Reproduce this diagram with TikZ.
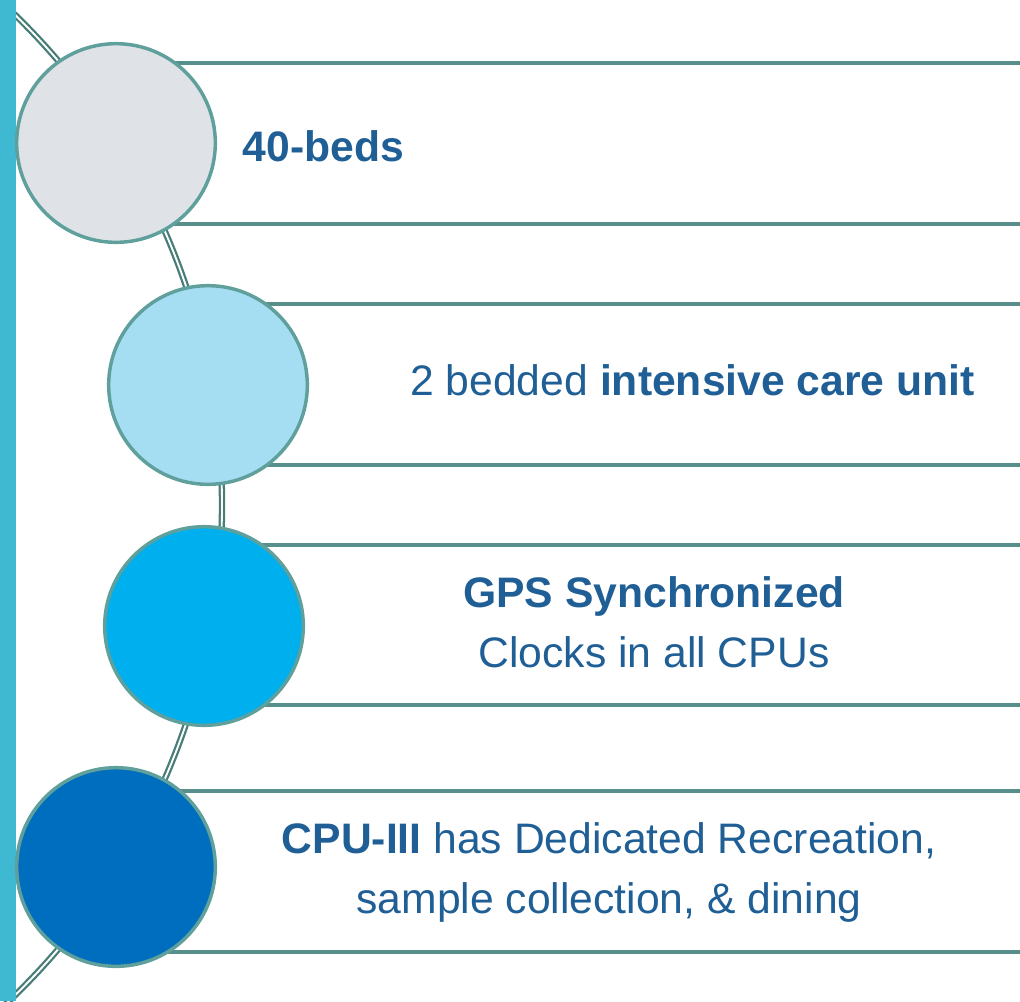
\documentclass[tikz,border=0pt]{standalone}
\usepackage{fontspec}
\setmainfont{Liberation Sans}
\usetikzlibrary{positioning}
\definecolor{barblue}{HTML}{3FB8D1}
\definecolor{ringteal}{HTML}{5FA09C}
\definecolor{ruleteal}{HTML}{578F8B}
\definecolor{arcteal}{HTML}{487D78}
\definecolor{textblue}{HTML}{1F5F96}
\definecolor{fillA}{HTML}{DFE3E7}
\definecolor{fillB}{HTML}{A5DDF3}
\definecolor{fillC}{HTML}{00B0EE}
\definecolor{fillD}{HTML}{006EBE}

\begin{document}
\begin{tikzpicture}[x=0.75pt,y=-0.75pt,
    disc/.style={circle,draw=ringteal,line width=2.6pt,minimum size=149pt,inner sep=0pt},
    rule/.style={draw=ruleteal,line width=2.6pt},
    lbl/.style={text=textblue,font=\fontsize{32}{45}\selectfont,align=center,anchor=base}]
  \useasboundingbox (0,0) rectangle (1020,1001);
  % curved spine behind the discs
  \draw[arcteal,line width=1.7pt,double=white,double distance=1.4pt]
    (-462,505) ++(-47:684) arc[start angle=-47,end angle=47,radius=684];
  \fill[barblue] (0,0) rectangle (16,1001);
  % bands
  \draw[rule] (116,63) -- (1025,63);
  \draw[rule] (116,224) -- (1025,224);
  \draw[rule] (208,304) -- (1025,304);
  \draw[rule] (208,465) -- (1025,465);
  \draw[rule] (204,545) -- (1025,545);
  \draw[rule] (204,705) -- (1025,705);
  \draw[rule] (116,791) -- (1025,791);
  \draw[rule] (116,952) -- (1025,952);
  % discs
  \node[disc,fill=fillA] (C1) at (116,143) {};
  \node[disc,fill=fillB] (C2) at (208,385) {};
  \node[disc,fill=fillC] (C3) at (204,626) {};
  \node[disc,fill=fillD] (C4) at (116,867) {};
  % labels (base = last line)
  \node[lbl] (T1) at (323.5,161) {\textbf{40-beds}};
  \node[lbl] (T2) at (692.5,395) {2 bedded \textbf{intensive care unit}};
  \node[lbl] (T3) at (654,667) {\textbf{GPS Synchronized}\\Clocks in all CPUs};
  \node[lbl] (T4) at (609,913) {\textbf{CPU-III} has Dedicated Recreation,\\sample collection, \& dining};
\end{tikzpicture}
\end{document}
